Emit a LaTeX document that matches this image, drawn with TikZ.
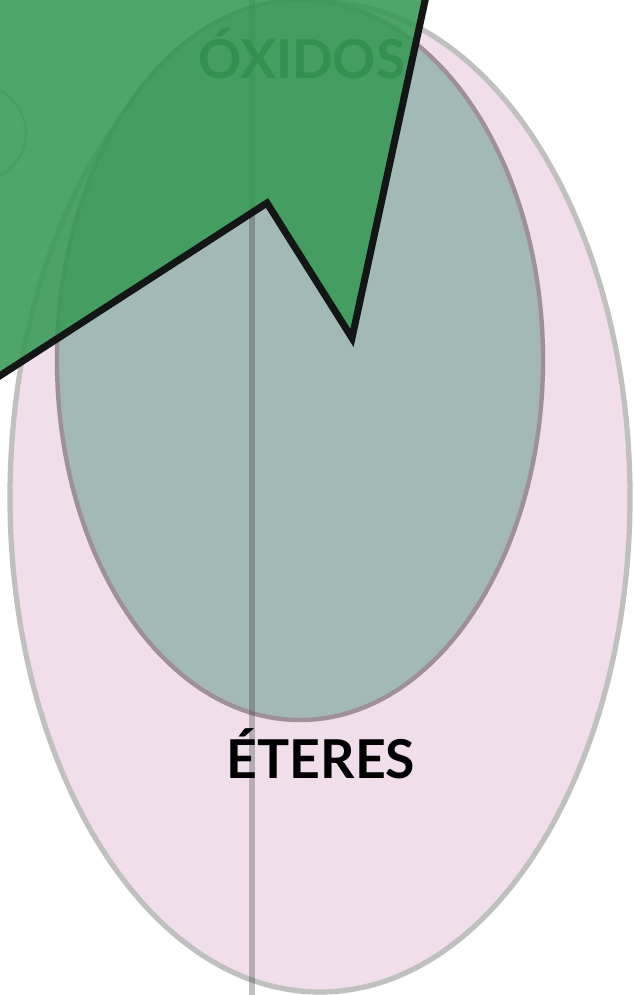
\documentclass[tikz,border=0pt]{standalone}
\usepackage{fontspec}
\setmainfont{Lato}
\definecolor{EterPink}   {RGB}{240,223,234}
\definecolor{EterRim}    {RGB}{192,192,192}
\definecolor{OxTeal}     {RGB}{163,185,182}
\definecolor{OxRim}      {RGB}{158,143,153}
\definecolor{ArrowGreen} {RGB}{55,154,86}
\definecolor{OxText}     {RGB}{25,75,35}
\definecolor{EdgeBlack}  {RGB}{20,22,22}
\usetikzlibrary{positioning}

\begin{document}
\begin{tikzpicture}[x=0.02cm,y=-0.02cm,
  setlabel/.style={font=\fontsize{30.5}{33}\selectfont\bfseries,anchor=base,
                   inner sep=0pt},
  axisline/.style={draw=black!80,line width=3.4pt,opacity=0.3}]
  \useasboundingbox (0,0) rectangle (633,995);
  \clip (0,0) rectangle (633,995);
  % outer set and inner set
  \draw[fill=EterPink,draw=EterRim,line width=3pt] (320,497) ellipse [x radius=310,y radius=495];
  \draw[fill=OxTeal,draw=OxRim,line width=2.5pt] (300,360) ellipse [x radius=243,y radius=360];
  \draw[axisline] (252,-10) coordinate (top) -- (252,1005) coordinate (bot);
  \draw[draw=OxRim,line width=1.5pt,opacity=0.5] (-40,133) ellipse [x radius=66,y radius=54];
  \node[setlabel,text=OxText] (oxidos) at (302,78) {ÓXIDOS};
  % big arrow on top
  \coordinate (tip) at (352,338);
  \coordinate (notch) at (267,203);
  \draw[fill=ArrowGreen,fill opacity=0.88,draw=EdgeBlack,line width=4pt,line join=miter]
    (436,-50) -- (tip) -- (notch) -- (-50,408) -- (-50,-50) -- cycle;
  \node[setlabel,text=black] (eteres) at (321,778) {ÉTERES};
\end{tikzpicture}
\end{document}
